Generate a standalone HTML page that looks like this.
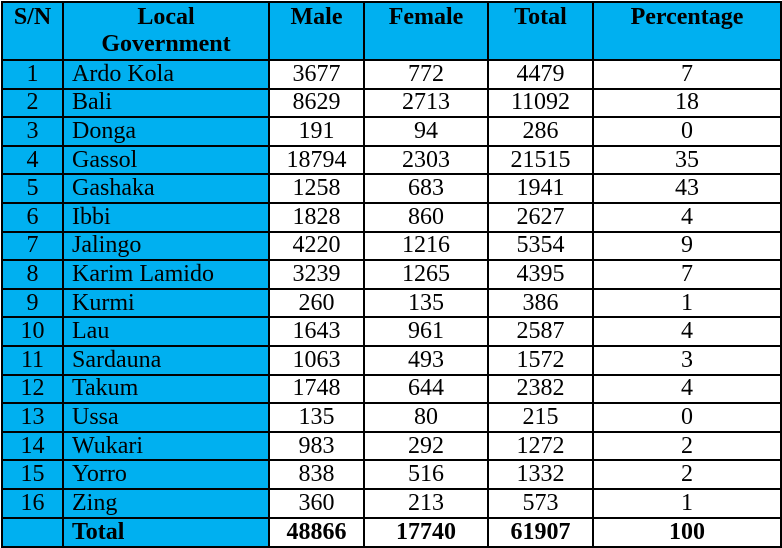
<!DOCTYPE html>
<html><head><style>
body{margin:0;background:#fff;}
table{position:absolute;left:1px;top:1px;border-collapse:collapse;table-layout:fixed;}
td{font-family:"Liberation Serif",serif;font-size:24px;color:#000;border:2px solid #000;padding:0;height:26.6px;line-height:25px;text-align:center;overflow:hidden;white-space:nowrap;}
td.b{background:#00b0f0;}
td.n{text-align:left;padding-left:8px;}
tr.h td{background:#00b0f0;font-weight:bold;height:55px;vertical-align:top;line-height:27px;padding-top:1px;font-size:24px;}
tr.t td{font-weight:bold;height:27px;font-size:24px;}
</style></head><body>
<table>
<colgroup><col style="width:61px"><col style="width:206px"><col style="width:95px"><col style="width:124px"><col style="width:105px"><col style="width:188px"></colgroup>
<tr class="h"><td>S/N</td><td>Local<br>Government</td><td>Male</td><td>Female</td><td>Total</td><td>Percentage</td></tr>
<tr><td class="b">1</td><td class="b n">Ardo Kola</td><td>3677</td><td>772</td><td>4479</td><td>7</td></tr>
<tr><td class="b">2</td><td class="b n">Bali</td><td>8629</td><td>2713</td><td>11092</td><td>18</td></tr>
<tr><td class="b">3</td><td class="b n">Donga</td><td>191</td><td>94</td><td>286</td><td>0</td></tr>
<tr><td class="b">4</td><td class="b n">Gassol</td><td>18794</td><td>2303</td><td>21515</td><td>35</td></tr>
<tr><td class="b">5</td><td class="b n">Gashaka</td><td>1258</td><td>683</td><td>1941</td><td>43</td></tr>
<tr><td class="b">6</td><td class="b n">Ibbi</td><td>1828</td><td>860</td><td>2627</td><td>4</td></tr>
<tr><td class="b">7</td><td class="b n">Jalingo</td><td>4220</td><td>1216</td><td>5354</td><td>9</td></tr>
<tr><td class="b">8</td><td class="b n">Karim Lamido</td><td>3239</td><td>1265</td><td>4395</td><td>7</td></tr>
<tr><td class="b">9</td><td class="b n">Kurmi</td><td>260</td><td>135</td><td>386</td><td>1</td></tr>
<tr><td class="b">10</td><td class="b n">Lau</td><td>1643</td><td>961</td><td>2587</td><td>4</td></tr>
<tr><td class="b">11</td><td class="b n">Sardauna</td><td>1063</td><td>493</td><td>1572</td><td>3</td></tr>
<tr><td class="b">12</td><td class="b n">Takum</td><td>1748</td><td>644</td><td>2382</td><td>4</td></tr>
<tr><td class="b">13</td><td class="b n">Ussa</td><td>135</td><td>80</td><td>215</td><td>0</td></tr>
<tr><td class="b">14</td><td class="b n">Wukari</td><td>983</td><td>292</td><td>1272</td><td>2</td></tr>
<tr><td class="b">15</td><td class="b n">Yorro</td><td>838</td><td>516</td><td>1332</td><td>2</td></tr>
<tr><td class="b">16</td><td class="b n">Zing</td><td>360</td><td>213</td><td>573</td><td>1</td></tr>
<tr class="t"><td class="b"></td><td class="b n">Total</td><td>48866</td><td>17740</td><td>61907</td><td>100</td></tr>
</table>
</body></html>
